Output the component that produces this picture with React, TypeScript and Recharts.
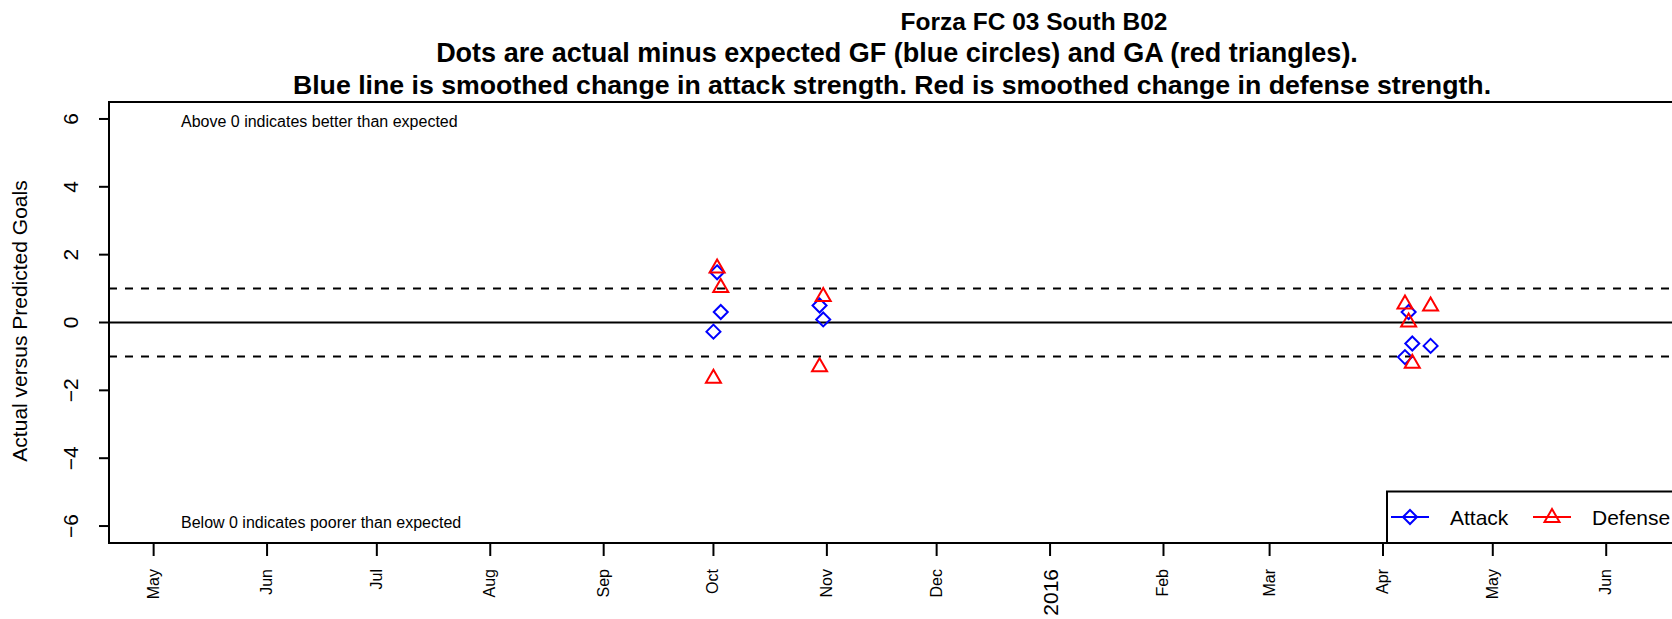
import React from 'react';
import { ScatterChart, Scatter, XAxis, YAxis, ReferenceLine, ReferenceArea } from 'recharts';

const FONT = '"Liberation Sans", Arial, Helvetica, sans-serif';

// day 0 is the first month tick
const origin = '2015-05-01';
const monthTicks = [
  '2015-05-01', '2015-06-01', '2015-07-01', '2015-08-01', '2015-09-01', '2015-10-01', '2015-11-01',
  '2015-12-01', '2016-01-01', '2016-02-01', '2016-03-01', '2016-04-01', '2016-05-01', '2016-06-01',
];
const monthLabels = ['May', 'Jun', 'Jul', 'Aug', 'Sep', 'Oct', 'Nov', 'Dec', '2016', 'Feb', 'Mar', 'Apr', 'May', 'Jun'];
const yTicks = [-6, -4, -2, 0, 2, 4, 6];
const xRange = [-12.2, 415.8];
const yRange = [-6.5, 6.5];

const gameDates = [
  '2015-10-01', '2015-10-02', '2015-10-03', '2015-10-30', '2015-10-31',
  '2016-04-07', '2016-04-08', '2016-04-09', '2016-04-14',
];
const attackValues = [-0.27, 1.48, 0.31, 0.5, 0.09, -1.02, 0.31, -0.62, -0.69];
const defenseValues = [-1.63, 1.62, 1.05, -1.29, 0.78, 0.56, 0.03, -1.19, 0.5];

const dayOf = (d: string) => (Date.parse(d) - Date.parse(origin)) / 86400000;
const tickDays = monthTicks.map(dayOf);
const attackData = gameDates.map((d, i) => ({ x: dayOf(d), y: attackValues[i] }));
const defenseData = gameDates.map((d, i) => ({ x: dayOf(d), y: defenseValues[i] }));

const Diamond = ({ cx, cy }: any) => (
  <polygon
    points={`${cx},${cy - 7} ${cx + 7},${cy} ${cx},${cy + 7} ${cx - 7},${cy}`}
    fill="none" stroke="#0000FF" strokeWidth={2}
  />
);

const Triangle = ({ cx, cy }: any) => (
  <polygon
    points={`${cx},${cy - 8} ${cx + 7.5},${cy + 5} ${cx - 7.5},${cy + 5}`}
    fill="none" stroke="#FF0000" strokeWidth={2}
  />
);

const XTick = ({ x, y, index }: any) => {
  const label = monthLabels[index];
  const big = label === '2016';
  const size = big ? 21 : 16;
  const bx = x + (big ? 7.5 : 5);
  const ey = y + 11;
  return (
    <text x={bx} y={ey} transform={`rotate(-90 ${bx} ${ey})`} textAnchor="end"
      fontSize={size} fontFamily={FONT} fill="#000">
      {label}
    </text>
  );
};

const YTick = ({ y, payload }: any) => {
  const v = payload.value;
  const bx = 78;
  return (
    <text x={bx} y={y} transform={`rotate(-90 ${bx} ${y})`} textAnchor="middle"
      fontSize={21} fontFamily={FONT} fill="#000">
      {v < 0 ? `\u2212${-v}` : `${v}`}
    </text>
  );
};

export default function App() {
  return (
    <div style={{ position: 'absolute', left: 0, top: 0, width: 1672, height: 619, overflow: 'hidden', background: '#fff' }}>
      <ScatterChart width={1680} height={619} margin={{ top: 102, right: 5, bottom: 0, left: 0 }}>
        <XAxis type="number" dataKey="x" domain={xRange} ticks={tickDays} interval={0}
          allowDataOverflow tick={<XTick />} tickSize={13}
          tickLine={{ stroke: '#000', strokeWidth: 2 }} axisLine={false} height={76} />
        <YAxis type="number" dataKey="y" domain={yRange} ticks={yTicks} interval={0}
          allowDataOverflow tick={<YTick />} tickSize={10}
          tickLine={{ stroke: '#000', strokeWidth: 2 }} axisLine={false} width={109} />
        <ReferenceLine y={0} stroke="#000" strokeWidth={2} />
        <ReferenceLine y={1} stroke="#000" strokeWidth={2} strokeDasharray="8 8" />
        <ReferenceLine y={-1} stroke="#000" strokeWidth={2} strokeDasharray="8 8" />
        <Scatter data={attackData} shape={<Diamond />} isAnimationActive={false} />
        <Scatter data={defenseData} shape={<Triangle />} isAnimationActive={false} />
        <ReferenceArea x1={xRange[0]} x2={xRange[1]} y1={yRange[0]} y2={yRange[1]}
          fill="none" fillOpacity={0} stroke="#000" strokeWidth={2} strokeOpacity={1} />
      </ScatterChart>

      <svg width={1672} height={619} style={{ position: 'absolute', left: 0, top: 0, pointerEvents: 'none' }}
        fontFamily={FONT}>
        <g fontWeight="bold" textAnchor="middle" fill="#000">
          <text x={1034} y={30} fontSize={24.5}>Forza FC 03 South B02</text>
          <text x={897} y={62} fontSize={27}>Dots are actual minus expected GF (blue circles) and GA (red triangles).</text>
          <text x={892} y={94} fontSize={26.7}>Blue line is smoothed change in attack strength. Red is smoothed change in defense strength.</text>
        </g>
        <text x={27} y={321} transform="rotate(-90 27 321)" textAnchor="middle" fontSize={21}>
          Actual versus Predicted Goals
        </text>
        <text x={181} y={127} fontSize={16}>Above 0 indicates better than expected</text>
        <text x={181} y={528} fontSize={16}>Below 0 indicates poorer than expected</text>

        <rect x={1387} y={491.5} width={400} height={51.5} fill="#fff" stroke="#000" strokeWidth={2} />
        <line x1={1391} x2={1429} y1={517} y2={517} stroke="#0000FF" strokeWidth={2} />
        <Diamond cx={1410} cy={517} />
        <text x={1450} y={524.5} fontSize={21}>Attack</text>
        <line x1={1533} x2={1571} y1={517} y2={517} stroke="#FF0000" strokeWidth={2} />
        <Triangle cx={1552} cy={517} />
        <text x={1592} y={524.5} fontSize={21}>Defense</text>
      </svg>
    </div>
  );
}
